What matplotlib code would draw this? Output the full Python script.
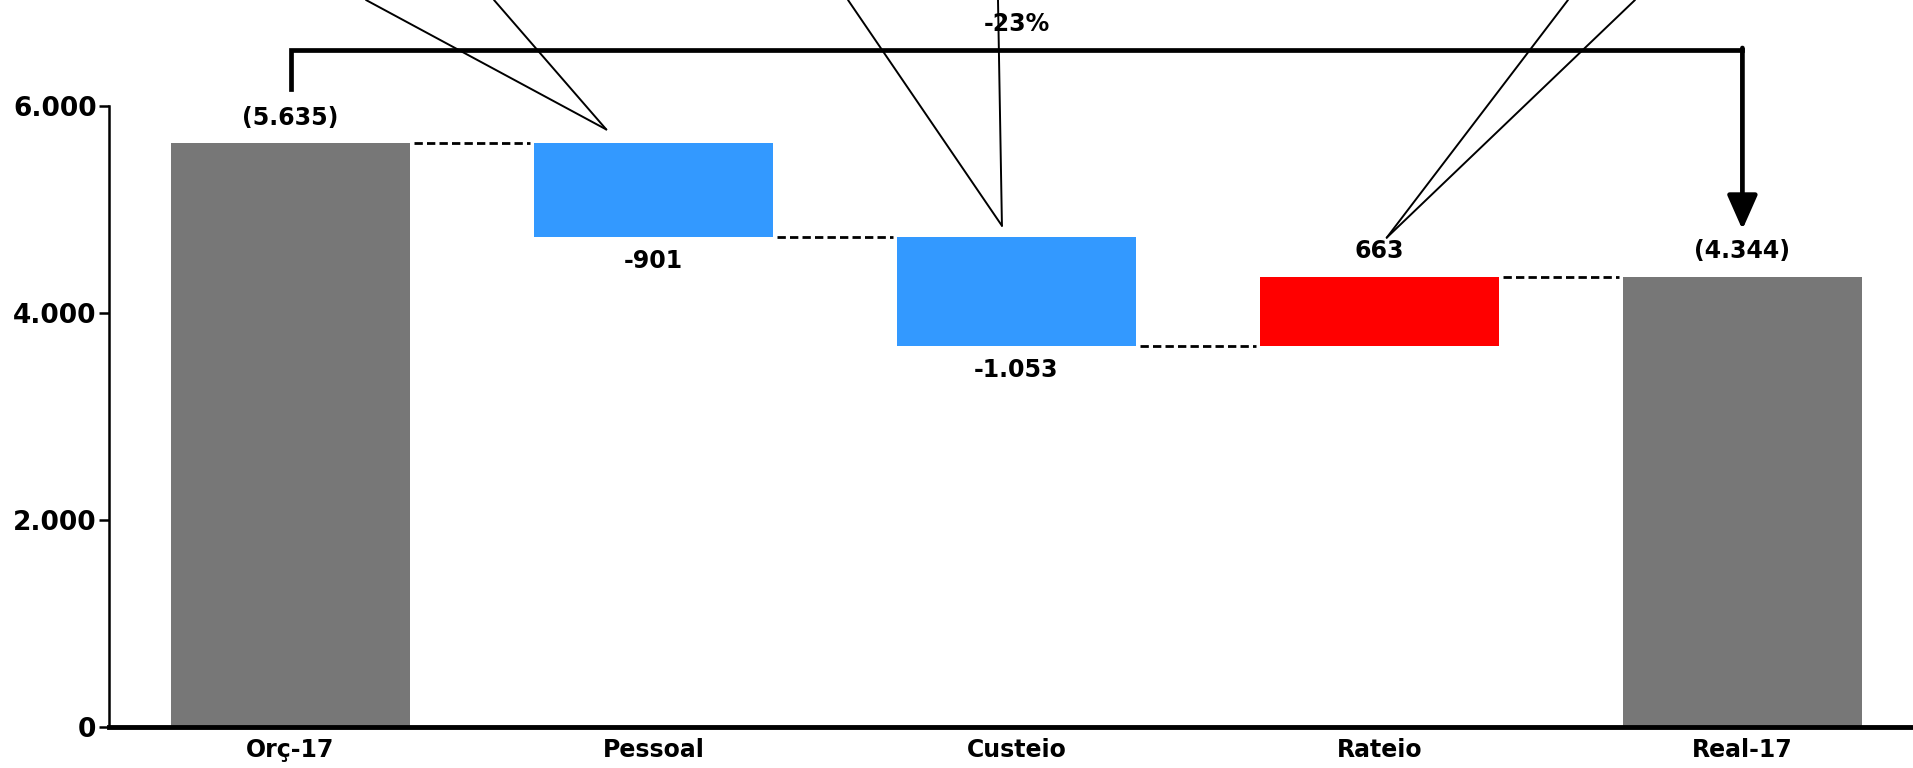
import numpy as np
import matplotlib.pyplot as plt

# 数据
categories = ['Orç-17', 'Pessoal', 'Custeio', 'Rateio', 'Real-17']
start_total = 5635
changes = [-901, -1053, 663]
end_total = 4344
value_labels = ['(5.635)', '-901', '-1.053', '663', '(4.344)']
bar_colors = ['#777777', '#3399FF', '#3399FF', '#FF0000', '#777777']
y_ticks = [0, 2000, 4000, 6000]
y_tick_labels = ['0', '2.000', '4.000', '6.000']

# 计算瀑布图的底部和高度
levels = np.concatenate([[start_total], start_total + np.cumsum(changes)])
bottoms = [0]
heights = [start_total]
for i, c in enumerate(changes):
    bottoms.append(min(levels[i], levels[i + 1]))
    heights.append(abs(c))
bottoms.append(0)
heights.append(end_total)
signs = [1] + [np.sign(c) for c in changes] + [1]

x = np.arange(len(categories))
w = 0.66

fig = plt.figure(figsize=(19.13, 7.68), dpi=100)
ax = fig.add_axes([0.057, 0.0534, 0.943, 0.809])

ax.bar(x, heights, bottom=bottoms, width=w, color=bar_colors, zorder=2)

# 连接虚线
for i in range(len(levels)):
    ax.plot([x[i] + w / 2 + 0.01, x[i + 1] - w / 2 - 0.01], [levels[i], levels[i]],
            color='black', linestyle=(0, (3, 1.5)), linewidth=2, zorder=3)

# 数值标签
for i in range(len(categories)):
    if signs[i] >= 0:
        ax.annotate(value_labels[i], (x[i], bottoms[i] + heights[i]), xytext=(0, 10),
                    textcoords='offset points', ha='center', va='bottom',
                    fontsize=17, fontweight='bold')
    else:
        ax.annotate(value_labels[i], (x[i], bottoms[i]), xytext=(0, -9),
                    textcoords='offset points', ha='center', va='top',
                    fontsize=17, fontweight='bold')

# 总变化括号和箭头
bracket_y = 6540
ax.plot([x[0], x[0], x[-1]], [start_total + 530, bracket_y, bracket_y],
        color='black', linewidth=3.4, clip_on=False, solid_joinstyle='miter')
ax.annotate('', xy=(x[-1], end_total + 460), xytext=(x[-1], bracket_y + 17),
            arrowprops=dict(arrowstyle='-|>,head_width=0.42,head_length=0.95',
                            lw=3.4, color='black', mutation_scale=22, shrinkA=0, shrinkB=0),
            annotation_clip=False)
pct = (end_total - start_total) / start_total * 100
ax.text(2, bracket_y + 130, '%.0f%%' % pct, ha='center', va='bottom',
        fontsize=17, fontweight='bold', clip_on=False)

# 指向画面外的引线
callout_pts = [(0.87, 5770), (0.87, 5770), (1.96, 4840), (1.96, 4840), (3.02, 4725), (3.02, 4725)]
callout_tops = [366, 494, 848, 998, 1568, 1635]
for (px, py), tx in zip(callout_pts, callout_tops):
    ax.annotate('', xy=(px, py), xycoords='data', xytext=(tx / 1913, 1.0),
                textcoords='figure fraction',
                arrowprops=dict(arrowstyle='-', lw=1.4, color='black', shrinkA=0, shrinkB=0),
                annotation_clip=False)

# 坐标轴
ax.set_xlim(-0.5, 4.47)
ax.set_ylim(0, 6000)
ax.set_xticks(x)
ax.set_xticklabels(categories, fontsize=17, fontweight='bold')
ax.tick_params(axis='x', length=0, pad=8)
ax.set_yticks(y_ticks)
ax.set_yticklabels(y_tick_labels, fontsize=19, fontweight='bold')
ax.tick_params(axis='y', length=7, width=1.8, pad=2)
ax.spines['top'].set_visible(False)
ax.spines['right'].set_visible(False)
ax.spines['left'].set_linewidth(1.8)
ax.spines['bottom'].set_linewidth(3.5)

fig.savefig('out.png', dpi=100)
